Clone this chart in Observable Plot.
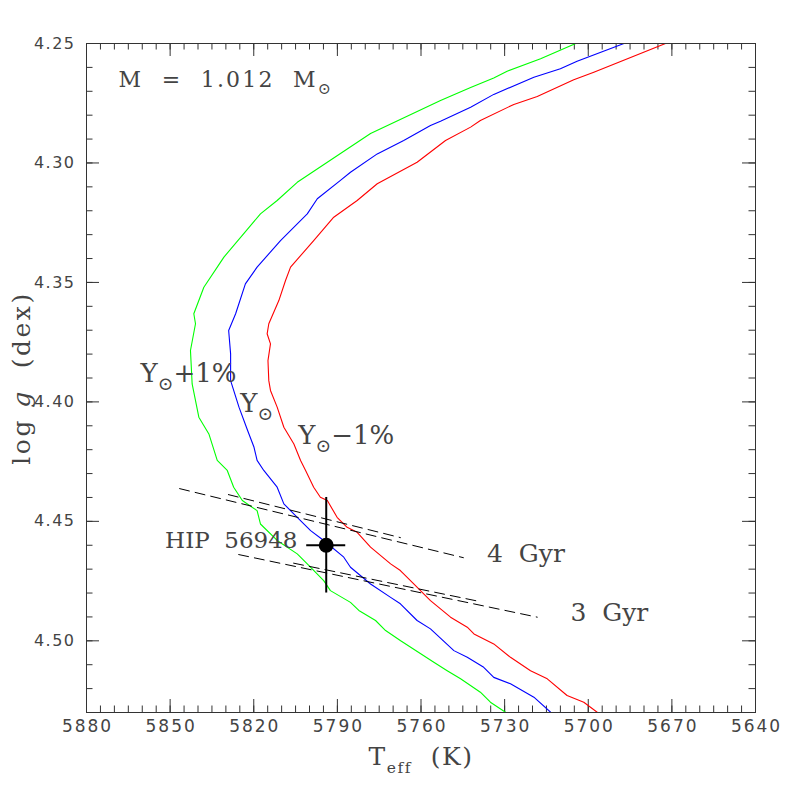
<!DOCTYPE html>
<html>
<head>
<meta charset="utf-8">
<script src="https://cdn.jsdelivr.net/npm/d3@7"></script>
<script src="https://cdn.jsdelivr.net/npm/@observablehq/plot@0.6"></script>
<style>
  html, body { margin: 0; padding: 0; background: #fff; }
  svg { display: block; }
</style>
</head>
<body>
<div id="chart"></div>
<script>
// ---- Data (Teff in K, log g in dex) ----
const xTickLabels = [5880, 5850, 5820, 5790, 5760, 5730, 5700, 5670, 5640];
const yTickLabels = [4.25, 4.30, 4.35, 4.40, 4.45, 4.50];

// Y_sun + 1% track (green)
const trackYplus = [
  [5704.5,4.2500],[5717.1,4.2564],[5729.1,4.2616],[5733.9,4.2644],[5742.2,4.2684],
  [5753.0,4.2739],[5778.1,4.2877],[5804.4,4.3081],[5811.6,4.3157],[5817.6,4.3213],
  [5830.7,4.3394],[5837.9,4.3520],[5841.5,4.3631],[5840.9,4.3673],[5842.7,4.3785],
  [5842.1,4.3925],[5839.7,4.4064],[5836.1,4.4134],[5833.1,4.4245],[5829.5,4.4287],
  [5827.2,4.4357],[5824.1,4.4413],[5818.8,4.4455],[5817.6,4.4511],[5811.6,4.4580],
  [5804.4,4.4636],[5800.8,4.4678],[5794.9,4.4748],[5792.5,4.4790],[5785.3,4.4839],
  [5782.3,4.4873],[5776.3,4.4915],[5772.7,4.4957],[5767.3,4.5000],[5755.4,4.5090],
  [5750.6,4.5125],[5745.8,4.5159],[5738.7,4.5215],[5735.1,4.5257],[5729.7,4.5299],
  [5728.5,4.5310]
];
// Y_sun track (blue)
const trackYsun = [
  [5687.2,4.2500],[5704.0,4.2574],[5710.0,4.2606],[5719.5,4.2641],[5733.9,4.2713],
  [5742.2,4.2767],[5753.0,4.2825],[5756.6,4.2843],[5766.2,4.2906],[5775.7,4.2962],
  [5785.3,4.3039],[5788.9,4.3073],[5797.2,4.3150],[5800.8,4.3213],[5810.4,4.3325],
  [5818.8,4.3436],[5823.0,4.3506],[5826.5,4.3631],[5829.0,4.3701],[5828.3,4.3799],
  [5828.3,4.3911],[5825.3,4.4022],[5822.2,4.4120],[5819.9,4.4190],[5818.8,4.4245],
  [5816.4,4.4287],[5811.6,4.4357],[5809.2,4.4427],[5804.4,4.4483],[5799.6,4.4539],
  [5794.9,4.4580],[5787.7,4.4650],[5785.3,4.4692],[5778.1,4.4762],[5770.9,4.4818],
  [5767.4,4.4845],[5761.4,4.4915],[5756.6,4.4950],[5748.2,4.5041],[5743.4,4.5069],
  [5737.5,4.5111],[5733.9,4.5153],[5727.9,4.5180],[5719.5,4.5236],[5713.5,4.5299],
  [5712.5,4.5310]
];
// Y_sun - 1% track (red)
const trackYminus = [
  [5672.3,4.2500],[5698.0,4.2620],[5705.2,4.2652],[5718.3,4.2722],[5726.7,4.2755],
  [5738.7,4.2822],[5742.2,4.2850],[5751.2,4.2906],[5761.4,4.2997],[5775.7,4.3087],
  [5782.9,4.3157],[5791.3,4.3227],[5798.5,4.3325],[5806.8,4.3436],[5808.6,4.3492],
  [5811.0,4.3576],[5814.6,4.3673],[5815.2,4.3715],[5814.0,4.3757],[5814.9,4.3827],
  [5814.6,4.3911],[5814.0,4.3952],[5811.6,4.4022],[5809.2,4.4106],[5805.6,4.4176],
  [5803.2,4.4245],[5801.4,4.4287],[5798.5,4.4357],[5796.1,4.4399],[5793.6,4.4413],
  [5790.1,4.4483],[5786.5,4.4525],[5782.9,4.4546],[5778.1,4.4608],[5770.9,4.4678],
  [5767.4,4.4706],[5762.6,4.4762],[5756.6,4.4832],[5749.4,4.4901],[5743.4,4.4943],
  [5741.0,4.4971],[5733.9,4.5013],[5727.9,4.5069],[5720.7,4.5125],[5714.7,4.5159],
  [5707.6,4.5229],[5701.6,4.5257],[5696.8,4.5299],[5695.8,4.5310]
];

// Isochrone segments (dashed)
const iso4a = [[5846.6,4.4363],[5744.8,4.4652]];
const iso4b = [[5829.1,4.4388],[5767.4,4.4568]];
const iso3a = [[5825.4,4.4639],[5718.3,4.4901]];
const iso3b = [[5805.7,4.4675],[5738.7,4.4836]];

// Star HIP 56948
const starTeff = 5794, starTeffErr = 7;
const starLogg = 4.46, starLoggErr = 0.02;

// Text annotations [Teff, logg, text]
const massLabel = [[5868.5, 4.2651, "M\u00a0\u00a0=\u00a0\u00a01.012\u00a0\u00a0M_{\u2299}"]];
const heliumLabels = [
  [5860.6, 4.3881, "Y_{\u2299}+1%"],
  [5824.8, 4.4007, "Y_{\u2299}"],
  [5804.0, 4.4141, "Y_{\u2299}\u22121%"]
];
const ageLabels = [
  [5736.3, 4.4636, "4\u00a0\u00a0Gyr"],
  [5706.4, 4.4884, "3\u00a0\u00a0Gyr"]
];
const starLabel = [[5804.3, 4.4580, "HIP\u00a0\u00a056948"]];

// ---- Layout ----
const W = 797, H = 797;
const mL = 86, mR = 42, mT = 43, mB = 85;
const plotW = W - mL - mR, plotH = H - mT - mB;
const majorLen = 13, minorLen = 6.5;

const xMinor = d3.range(5880, 5639, -5);
const yMinor = d3.range(425, 454).map(v => v / 100);

const tickStroke = "#333";
const serif = "DejaVu Serif";
const textColor = "#444";

const chart = Plot.plot({
  width: W, height: H,
  marginLeft: mL, marginRight: mR, marginTop: mT, marginBottom: mB,
  x: {domain: [5880, 5640], axis: null},
  y: {domain: [4.53, 4.25], axis: null},
  marks: [
    // ticks (inward, all four sides)
    Plot.ruleX(xMinor, {x: d => d, insetTop: plotH - minorLen, stroke: tickStroke}),
    Plot.ruleX(xMinor, {x: d => d, insetBottom: plotH - minorLen, stroke: tickStroke}),
    Plot.ruleX(xTickLabels, {x: d => d, insetTop: plotH - majorLen, stroke: tickStroke}),
    Plot.ruleX(xTickLabels, {x: d => d, insetBottom: plotH - majorLen, stroke: tickStroke}),
    Plot.ruleY(yMinor, {y: d => d, insetRight: plotW - minorLen, stroke: tickStroke}),
    Plot.ruleY(yMinor, {y: d => d, insetLeft: plotW - minorLen, stroke: tickStroke}),
    Plot.ruleY(yTickLabels, {y: d => d, insetRight: plotW - majorLen, stroke: tickStroke}),
    Plot.ruleY(yTickLabels, {y: d => d, insetLeft: plotW - majorLen, stroke: tickStroke}),
    // tick labels
    Plot.text(xTickLabels, {x: d => d, frameAnchor: "bottom", dy: 19, dx: 1, text: d => String(d),
      textAnchor: "middle", fontFamily: "DejaVu Sans", fontSize: 17, fill: textColor}),
    Plot.text(yTickLabels, {y: d => d, frameAnchor: "left", dx: -11, textAnchor: "end",
      text: d => d.toFixed(2), fontFamily: "DejaVu Sans", fontSize: 16, fill: textColor}),
    // axis labels
    Plot.text(["T_{eff}\u00a0\u00a0(K)"], {frameAnchor: "bottom", dy: 52, text: d => d, textAnchor: "middle",
      fontFamily: serif, fontSize: 25, fill: textColor}),
    Plot.text(["log\u00a0*g*\u00a0\u00a0(dex)"], {frameAnchor: "left", dx: -65, rotate: -90, text: d => d,
      textAnchor: "middle", fontFamily: serif, fontSize: 25, fill: textColor}),
    // evolutionary tracks
    Plot.line(trackYplus, {x: d => d[0], y: d => d[1], stroke: "#00ff00", strokeWidth: 1.1, clip: true}),
    Plot.line(trackYsun, {x: d => d[0], y: d => d[1], stroke: "#0000ff", strokeWidth: 1.1, clip: true}),
    Plot.line(trackYminus, {x: d => d[0], y: d => d[1], stroke: "#ff0000", strokeWidth: 1.1, clip: true}),
    // isochrones
    ...[iso4a, iso4b, iso3a, iso3b].map(seg =>
      Plot.line(seg, {x: d => d[0], y: d => d[1], stroke: "#000", strokeWidth: 1, strokeDasharray: "10,6"})),
    // star with error bars
    Plot.ruleX([starTeff], {x: d => d, y1: starLogg - starLoggErr, y2: starLogg + starLoggErr, stroke: "#000", strokeWidth: 2}),
    Plot.ruleY([starLogg], {y: d => d, x1: starTeff - starTeffErr, x2: starTeff + starTeffErr, stroke: "#000", strokeWidth: 2}),
    Plot.dot([[starTeff, starLogg]], {x: d => d[0], y: d => d[1], r: 7.5, fill: "#000", stroke: "none"}),
    // annotations
    Plot.text(massLabel, {x: d => d[0], y: d => d[1], text: d => d[2], textAnchor: "start",
      fontFamily: serif, fontSize: 22, fill: textColor}),
    Plot.text(heliumLabels, {x: d => d[0], y: d => d[1], text: d => d[2], textAnchor: "start",
      fontFamily: serif, fontSize: 26, fill: textColor}),
    Plot.text(ageLabels, {x: d => d[0], y: d => d[1], text: d => d[2], textAnchor: "start",
      fontFamily: serif, fontSize: 25, fill: textColor}),
    Plot.text(starLabel, {x: d => d[0], y: d => d[1], text: d => d[2], textAnchor: "end",
      fontFamily: serif, fontSize: 23, fill: textColor}),
    Plot.frame({stroke: "#333", strokeWidth: 1})
  ]
});

document.getElementById("chart").appendChild(chart);

// letter spacing to mimic the wide plotting font
const spacing = new Map([
  ["M\u00a0\u00a0=", 2.2], ["log", 2.5], ["T_{eff}", 1.5]
]);
d3.select(chart).selectAll("text").each(function() {
  const s = this.textContent;
  if (/^\d{4}$/.test(s)) this.setAttribute("letter-spacing", "2");
  else if (/^4\.\d\d$/.test(s)) this.setAttribute("letter-spacing", "1.5");
  for (const [k, v] of spacing) if (s.startsWith(k)) this.setAttribute("letter-spacing", v);
});

// rich text: _{sub} and *italic*
d3.select(chart).selectAll("text").each(function() {
  const el = this;
  const s = el.textContent;
  if (!/_\{|\*/.test(s)) return;
  const fs = parseFloat(getComputedStyle(el).fontSize) || 16;
  const parts = s.split(/(_\{[^}]*\}|\*[^*]*\*)/).filter(p => p.length);
  while (el.firstChild) el.removeChild(el.firstChild);
  const ns = "http://www.w3.org/2000/svg";
  let shifted = 0;
  for (const p of parts) {
    const t = document.createElementNS(ns, "tspan");
    if (p.startsWith("_{")) {
      const inner = p.slice(2, -1);
      const scale = inner === "\u2299" ? 0.72 : 0.62;
      t.textContent = inner;
      t.setAttribute("font-size", (fs * scale).toFixed(1));
      t.setAttribute("dy", (fs * 0.32).toFixed(1));
      shifted = fs * 0.32;
    } else {
      if (p.startsWith("*")) {
        t.textContent = p.slice(1, -1);
        t.setAttribute("font-style", "italic");
      } else {
        t.textContent = p;
      }
      if (shifted) { t.setAttribute("dy", (-shifted).toFixed(1)); shifted = 0; }
    }
    el.appendChild(t);
  }
});
</script>
</body>
</html>
